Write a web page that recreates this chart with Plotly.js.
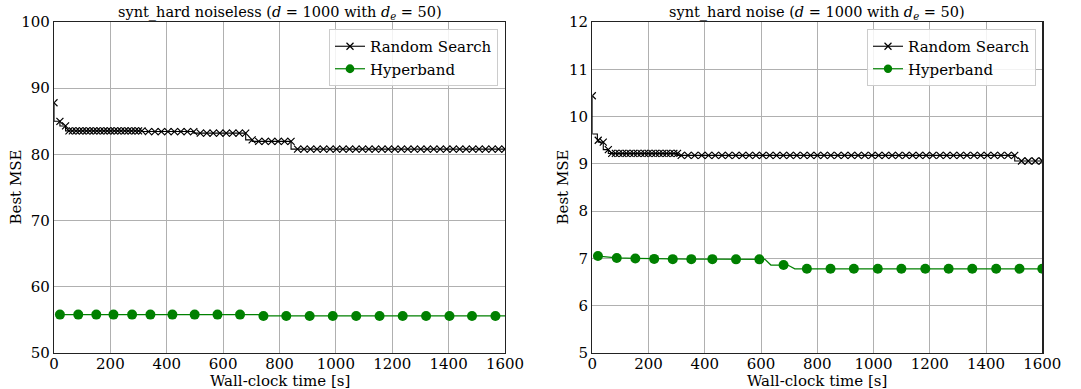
<!DOCTYPE html>
<html>
<head>
<meta charset="utf-8">
<script src="https://cdn.plot.ly/plotly-3.0.1.min.js"></script>
<style>html,body{margin:0;padding:0;background:#fff;}#chart{width:1081px;height:389px;}</style>
</head>
<body>
<div id="chart"></div>
<script>
// ---- Left panel: synt_hard noiseless ----
const rsLeftX = [0,21,41,53,65,78,90,102,115,127,140,152,164,177,189,201,214,226,238,251,263,275,288,300,312,
  335,358,381,404,427,450,473,496,519,542,565,588,611,634,657,680,703,726,749,772,795,818,841,
  864,887,910,933,956,979,1002,1025,1048,1071,1094,1117,1140,1163,1186,1209,1232,1255,1278,1301,1324,1347,1370,1393,1416,1439,1462,1485,1508,1531,1554,1577,1600];
const rsLeftY = [87.8,85.0,84.3,
  83.55,83.55,83.55,83.55,83.55,83.55,83.55,83.55,83.55,83.55,83.55,83.55,83.55,83.55,83.55,83.55,83.55,83.55,83.55,83.55,83.55,83.55,
  83.45,83.45,83.45,83.45,83.45,83.45,83.45,83.45,
  83.22,83.22,83.22,83.22,83.22,83.22,83.22,83.22,
  82.2,
  81.96,81.96,81.96,81.96,81.96,81.96,
  80.8,80.8,80.8,80.8,80.8,80.8,80.8,80.8,80.8,80.8,80.8,80.8,80.8,80.8,80.8,80.8,80.8,80.8,80.8,80.8,80.8,80.8,80.8,80.8,80.8,80.8,80.8,80.8,80.8,80.8,80.8,80.8,80.8];
const hbLeftX = [21,86,150,211,277,342,420,499,580,660,725,738,743,824,907,989,1072,1155,1237,1320,1403,1483,1566,1600];
const hbLeftY = [55.8,55.8,55.8,55.8,55.8,55.8,55.8,55.8,55.8,55.8,55.8,55.6,55.6,55.6,55.6,55.6,55.6,55.6,55.6,55.6,55.6,55.6,55.6,55.6];
const hbLeftMarked = [1,1,1,1,1,1,1,1,1,1,0,0,1,1,1,1,1,1,1,1,1,1,1,0];

// ---- Right panel: synt_hard noise ----
const rsRightX = [0,18,21,39,57,
  69,82,95,108,121,134,147,160,173,186,199,212,225,238,251,264,277,290,303,
  316,340,364,389,413,437,461,485,510,534,558,582,606,631,655,679,703,727,752,776,800,824,848,873,897,921,945,969,994,1018,1042,1066,1090,1115,1139,1163,1187,1211,1236,1260,1284,1308,1332,1357,1381,1405,1429,1453,1478,1502,
  1526,1550,1575,1600];
const rsRightY = [10.44,9.63,9.5,9.46,9.3,
  9.22,9.22,9.22,9.22,9.22,9.22,9.22,9.22,9.22,9.22,9.22,9.22,9.22,9.22,9.22,9.22,9.22,9.22,9.22,
  9.18,9.18,9.18,9.18,9.18,9.18,9.18,9.18,9.18,9.18,9.18,9.18,9.18,9.18,9.18,9.18,9.18,9.18,9.18,9.18,9.18,9.18,9.18,9.18,9.18,9.18,9.18,9.18,9.18,9.18,9.18,9.18,9.18,9.18,9.18,9.18,9.18,9.18,9.18,9.18,9.18,9.18,9.18,9.18,9.18,9.18,9.18,9.18,9.18,9.18,
  9.06,9.06,9.06,9.06];
const rsRightMarked = rsRightX.map((v, i) => i === 1 ? 0 : 1);
const rsLeftMarked = rsLeftX.map(() => 1);
const hbRightX = [20,87,153,220,286,352,427,511,594,614,635,680,695,720,763,847,930,1015,1099,1184,1267,1351,1436,1519,1600];
const hbRightY = [7.05,7.01,7.0,6.99,6.985,6.985,6.985,6.98,6.98,6.98,6.86,6.86,6.86,6.78,6.78,6.78,6.78,6.78,6.78,6.78,6.78,6.78,6.78,6.78,6.78];
const hbRightMarked = [1,1,1,1,1,1,1,1,1,0,0,1,0,0,1,1,1,1,1,1,1,1,1,1,1];

const seriesNames = ["Random Search", "Hyperband"];
const xTicks = [0,200,400,600,800,1000,1200,1400,1600];
const yTicksLeft = [50,60,70,80,90,100];
const yTicksRight = [5,6,7,8,9,10,11,12];
const titles = ["synt_hard noiseless (<i>d</i> = 1000 with <i>d</i><sub><i>e</i></sub> = 50)",
                "synt_hard noise (<i>d</i> = 1000 with <i>d</i><sub><i>e</i></sub> = 50)"];
const xLabel = "Wall-clock time [s]";
const yLabel = "Best MSE";

const FONT = "DejaVu Serif, Liberation Serif, serif";
const W = 1081, H = 389;
const px = v => v / W;
const py = v => (H - v) / H;

function rsTrace(x, y, marked, xa, ya, leg) {
  return {x: x, y: y, xaxis: xa, yaxis: ya, name: seriesNames[0], legend: leg,
    mode: "lines+markers", line: {color: "#000", width: 1.1, shape: "vh"},
    marker: {symbol: "x-thin-open", size: marked.map(m => m ? 7 : 0), color: "#000", opacity: 1, line: {color: "#000", width: 1.2}},
    hoverinfo: "skip"};
}
function hbTrace(x, y, marked, xa, ya, leg) {
  return {x: x, y: y, xaxis: xa, yaxis: ya, name: seriesNames[1], legend: leg,
    mode: "lines+markers", line: {color: "#008000", width: 1.2},
    marker: {symbol: "circle", size: marked.map(m => m ? 10 : 0), color: "#008000", opacity: 1, line: {color: "#008000", width: 0}},
    hoverinfo: "skip"};
}

const traces = [
  rsTrace(rsLeftX, rsLeftY, rsLeftMarked, "x", "y", "legend"),
  hbTrace(hbLeftX, hbLeftY, hbLeftMarked, "x", "y", "legend"),
  rsTrace(rsRightX, rsRightY, rsRightMarked, "x2", "y2", "legend2"),
  hbTrace(hbRightX, hbRightY, hbRightMarked, "x2", "y2", "legend2")
];

const axCommon = {
  showline: true, mirror: true, linecolor: "#222", linewidth: 1.2,
  showgrid: true, gridcolor: "#b0b0b0", gridwidth: 1,
  zeroline: false, ticks: "",
  tickfont: {family: FONT, size: 15, color: "#000"}, automargin: false, fixedrange: true
};
const xAx = Object.assign({}, axCommon, {ticklabelstandoff: -3});

const legendCommon = {
  font: {family: FONT, size: 15, color: "#000"},
  bgcolor: "rgba(255,255,255,0.85)", bordercolor: "#cccccc", borderwidth: 1,
  xanchor: "left", yanchor: "top", tracegroupgap: 0, itemwidth: 30
};

const layout = {
  width: W, height: H,
  margin: {l: 0, r: 0, t: 0, b: 0},
  paper_bgcolor: "#fff", plot_bgcolor: "#fff",
  font: {family: FONT, color: "#000"},
  xaxis: Object.assign({}, xAx, {domain: [px(54), px(505)], range: [0, 1600], tickvals: xTicks, anchor: "y"}),
  yaxis: Object.assign({}, axCommon, {domain: [py(353), py(22)], range: [50, 100], tickvals: yTicksLeft, anchor: "x"}),
  xaxis2: Object.assign({}, xAx, {domain: [px(592.3), px(1042.3)], range: [0, 1600], tickvals: xTicks, anchor: "y2"}),
  yaxis2: Object.assign({}, axCommon, {domain: [py(353), py(22)], range: [5, 12], tickvals: yTicksRight, anchor: "x2"}),
  legend: Object.assign({}, legendCommon, {x: px(329), y: py(29)}),
  legend2: Object.assign({}, legendCommon, {x: px(867), y: py(29)}),
  annotations: [
    {text: titles[0], x: px(279.5), y: py(13), xref: "paper", yref: "paper", showarrow: false, xanchor: "center", yanchor: "middle", font: {family: FONT, size: 14.5}},
    {text: titles[1], x: px(817.3), y: py(13), xref: "paper", yref: "paper", showarrow: false, xanchor: "center", yanchor: "middle", font: {family: FONT, size: 14.5}},
    {text: xLabel, x: px(279.5), y: py(380.5), xref: "paper", yref: "paper", showarrow: false, xanchor: "center", yanchor: "middle", font: {family: FONT, size: 15}},
    {text: xLabel, x: px(817.3), y: py(380.5), xref: "paper", yref: "paper", showarrow: false, xanchor: "center", yanchor: "middle", font: {family: FONT, size: 15}},
    {text: yLabel, x: px(15), y: py(187.5), xref: "paper", yref: "paper", showarrow: false, textangle: -90, xanchor: "center", yanchor: "middle", font: {family: FONT, size: 15}},
    {text: yLabel, x: px(562), y: py(187.5), xref: "paper", yref: "paper", showarrow: false, textangle: -90, xanchor: "center", yanchor: "middle", font: {family: FONT, size: 15}}
  ]
};

Plotly.newPlot("chart", traces, layout, {staticPlot: true, displayModeBar: false});
</script>
</body>
</html>
